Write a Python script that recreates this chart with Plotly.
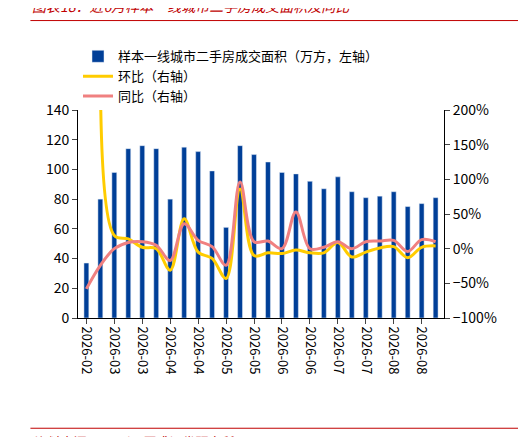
import plotly.graph_objects as go

ticktext = ["2026-02", "2026-03", "2026-03", "2026-04", "2026-04", "2026-05", "2026-05",
            "2026-06", "2026-06", "2026-07", "2026-07", "2026-08", "2026-08"]
area = [37, 80, 98, 114, 116, 114, 80, 115, 112, 99, 61, 116, 110, 105, 98, 97, 92, 87,
        95, 85, 81, 82, 85, 75, 77, 81]
mom = [None, 250, 19, 14, 2, 0, -31, 43, -5, -14, -43, 86, -10, -6, -7, -2, -6, -6, 9,
       -12, -5, 1, 3, -13, 2, 4]
yoy = [-58, -24, 0, 9, 10, 5, -17, 36, 12, 3, -24, 96, 10, 11, 0, 53, 0, 2, 10, 0, 10,
       11, 12, -4, 13, 10]

x = list(range(len(area)))
font = "Noto Sans CJK SC"

fig = go.Figure()
fig.add_bar(x=x, y=area, name="样本一线城市二手房成交面积（万方，左轴）",
            marker_color="#003F98", width=0.35)
fig.add_scatter(x=x, y=[v / 100 if v is not None else None for v in mom], name="环比（右轴）",
                yaxis="y2", mode="lines", line=dict(color="#FFCC00", width=3, shape="spline"))
fig.add_scatter(x=x, y=[v / 100 for v in yoy], name="同比（右轴）", yaxis="y2",
                mode="lines", line=dict(color="#F08080", width=3, shape="spline"))

fig.update_layout(
    width=526, height=437, plot_bgcolor="white", paper_bgcolor="white",
    font=dict(family=font, size=13, color="black"),
    margin=dict(l=70, r=90, t=102, b=127),
    showlegend=True,
    legend=dict(x=0.0, y=1.33, xanchor="left", yanchor="top", bgcolor="rgba(0,0,0,0)",
                font=dict(size=13), tracegroupgap=0),
    xaxis=dict(range=[-0.6, len(area) - 0.4], tickvals=x[::2], ticktext=ticktext,
               tickangle=90, showline=True, linecolor="black", ticks="outside",
               showgrid=False, tickfont=dict(size=13)),
    yaxis=dict(range=[0, 140], dtick=20, showline=True, linecolor="black", ticks="outside",
               showgrid=False, zeroline=False, tickfont=dict(size=14)),
    yaxis2=dict(range=[-1, 2], dtick=0.5, tickformat=".0%", overlaying="y", side="right",
                showline=True, linecolor="black", ticks="outside", showgrid=False,
                zeroline=False, tickfont=dict(size=14)),
    annotations=[
        dict(text="<i>图表18：近6月样本一线城市二手房成交面积及同比</i>", xref="paper", yref="paper",
             x=-0.13, y=1.44, xanchor="left", yanchor="bottom", showarrow=False,
             font=dict(size=14, color="#C00000")),
        dict(text="<i>资料来源：Wind，国盛证券研究所</i>", xref="paper", yref="paper",
             x=-0.13, y=-0.54, xanchor="left", yanchor="top", showarrow=False,
             font=dict(size=13, color="#C00000")),
    ],
    shapes=[
        dict(type="line", xref="paper", yref="paper", x0=-0.13, x1=1.22, y0=1.43, y1=1.43,
             line=dict(color="#C00000", width=1)),
        dict(type="line", xref="paper", yref="paper", x0=-0.13, x1=1.22, y0=-0.53, y1=-0.53,
             line=dict(color="#C00000", width=1)),
    ],
)
fig.write_html("out.html")
